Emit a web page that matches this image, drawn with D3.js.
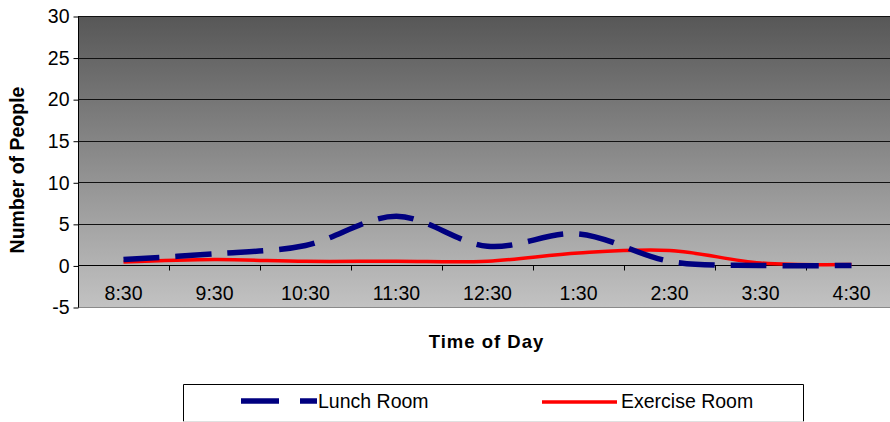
<!DOCTYPE html>
<html>
<head>
<meta charset="utf-8">
<script src="https://cdn.jsdelivr.net/npm/d3@7/dist/d3.min.js"></script>
<style>
  html, body { margin: 0; padding: 0; background: #fff; }
  svg { display: block; font-family: "Liberation Sans", Arial, sans-serif; }
</style>
</head>
<body>
<svg id="chart" width="890" height="422"></svg>
<script>
// Time slots along the category axis
const categories = ["8:30", "9:30", "10:30", "11:30", "12:30", "1:30", "2:30", "3:30", "4:30"];
// Number of people in each room per time slot
const lunchRoom = [0.7, 1.4, 2.4, 5.9, 2.3, 3.8, 0.5, 0, 0];
const exerciseRoom = [0.4, 0.7, 0.5, 0.5, 0.5, 1.5, 1.8, 0.3, 0.1];
// Value axis ticks
const yTicks = [-5, 0, 5, 10, 15, 20, 25, 30];
const seriesNames = ["Lunch Room", "Exercise Room"];

const svg = d3.select("#chart");
const plot = { left: 78, right: 897, top: 16, bottom: 307 };
const labelFont = "'Liberation Sans', Arial, sans-serif";

const x = d3.scaleBand().domain(categories).range([plot.left, plot.right]);
const y = d3.scaleLinear().domain([-5, 30]).range([plot.bottom, plot.top]);

// Plot area background: dark at top fading to light grey at bottom
const defs = svg.append("defs");
const grad = defs.append("linearGradient")
  .attr("id", "plotBg").attr("x1", 0).attr("y1", 0).attr("x2", 0).attr("y2", 1);
grad.append("stop").attr("offset", "0%").attr("stop-color", "#575757");
grad.append("stop").attr("offset", "100%").attr("stop-color", "#c2c2c2");

svg.append("rect")
  .attr("x", plot.left).attr("y", plot.top)
  .attr("width", plot.right - plot.left).attr("height", plot.bottom - plot.top)
  .attr("fill", "url(#plotBg)");

// Plot area bottom edge
svg.append("line")
  .attr("x1", plot.left).attr("x2", plot.right)
  .attr("y1", plot.bottom + 0.5).attr("y2", plot.bottom + 0.5)
  .attr("stroke", "#8a8a8a").attr("stroke-width", 1);

// Horizontal gridlines
svg.append("g")
  .selectAll("line")
  .data(yTicks.filter(d => d > 0))
  .join("line")
  .attr("x1", plot.left).attr("x2", plot.right)
  .attr("y1", d => Math.round(y(d)) + 0.5).attr("y2", d => Math.round(y(d)) + 0.5)
  .attr("stroke", "#111").attr("stroke-width", 1);

// Value axis (plain hyphen for negative labels)
const yAxis = d3.axisLeft(y).tickValues(yTicks).tickFormat(d => String(d))
  .tickSize(5).tickPadding(4);
const yG = svg.append("g")
  .attr("transform", `translate(${plot.left + 0.5},0.5)`)
  .call(yAxis);
yG.select(".domain").attr("stroke", "#000").attr("d", `M0,${plot.top}V${plot.bottom}`);
yG.selectAll(".tick line").attr("stroke", "#000");
yG.selectAll(".tick text")
  .attr("font-size", 19.5).attr("fill", "#000")
  .attr("font-family", labelFont);

// Category axis at zero, ticks between categories
const zeroY = Math.round(y(0)) + 0.5;
const xAxis = d3.axisBottom(x).tickSize(0).tickPadding(0);
const xG = svg.append("g")
  .attr("transform", `translate(0,${zeroY})`)
  .call(xAxis);
xG.select(".domain").attr("stroke", "#000").attr("d", `M${plot.left},0H${plot.right}`);
xG.selectAll(".tick text")
  .attr("y", 34).attr("dy", null)
  .attr("font-size", 19.5).attr("fill", "#000")
  .attr("font-family", labelFont);
xG.append("g")
  .selectAll("line")
  .data(categories.slice(1))
  .join("line")
  .attr("x1", d => Math.round(x(d)) + 0.5).attr("x2", d => Math.round(x(d)) + 0.5)
  .attr("y1", 0).attr("y2", 5)
  .attr("stroke", "#000");

// Smoothed series lines
const line = d3.line()
  .x((d, i) => x(categories[i]) + x.bandwidth() / 2)
  .y(d => y(d))
  .curve(d3.curveCatmullRom.alpha(0));

svg.append("path")
  .datum(exerciseRoom)
  .attr("d", line)
  .attr("fill", "none")
  .attr("stroke", "#ff0000")
  .attr("stroke-width", 3.5);

svg.append("path")
  .datum(lunchRoom)
  .attr("d", line)
  .attr("fill", "none")
  .attr("stroke", "#000080")
  .attr("stroke-width", 5.5)
  .attr("stroke-dasharray", "36,16");

// Axis titles
svg.append("text")
  .attr("transform", `translate(24,170) rotate(-90)`)
  .attr("text-anchor", "middle")
  .attr("font-size", 19.5).attr("font-weight", "bold")
  .text("Number of People");

svg.append("text")
  .attr("x", (plot.left + plot.right) / 2 - 1).attr("y", 348)
  .attr("text-anchor", "middle")
  .attr("font-size", 18.5).attr("font-weight", "bold")
  .attr("letter-spacing", 1)
  .text("Time of Day");

// Legend box
const lg = svg.append("g");
lg.append("rect")
  .attr("x", 183.5).attr("y", 384.5).attr("width", 620).attr("height", 37)
  .attr("fill", "#fff").attr("stroke", "none");
lg.append("path")
  .attr("d", "M183.5,421.5V384.5H803.5V421.5")
  .attr("fill", "none").attr("stroke", "#000");
lg.append("line")
  .attr("x1", 183.5).attr("x2", 803.5).attr("y1", 421.5).attr("y2", 421.5)
  .attr("stroke", "#e0e0e0");

lg.append("line")
  .attr("x1", 241).attr("x2", 317).attr("y1", 401).attr("y2", 401)
  .attr("stroke", "#000080").attr("stroke-width", 5.5)
  .attr("stroke-dasharray", "38,21");
lg.append("text")
  .attr("x", 318).attr("y", 408)
  .attr("font-size", 19.5)
  .text(seriesNames[0]);

lg.append("line")
  .attr("x1", 542).attr("x2", 617).attr("y1", 402).attr("y2", 402)
  .attr("stroke", "#ff0000").attr("stroke-width", 3.5);
lg.append("text")
  .attr("x", 621).attr("y", 408)
  .attr("font-size", 19.5)
  .text(seriesNames[1]);
</script>
</body>
</html>
